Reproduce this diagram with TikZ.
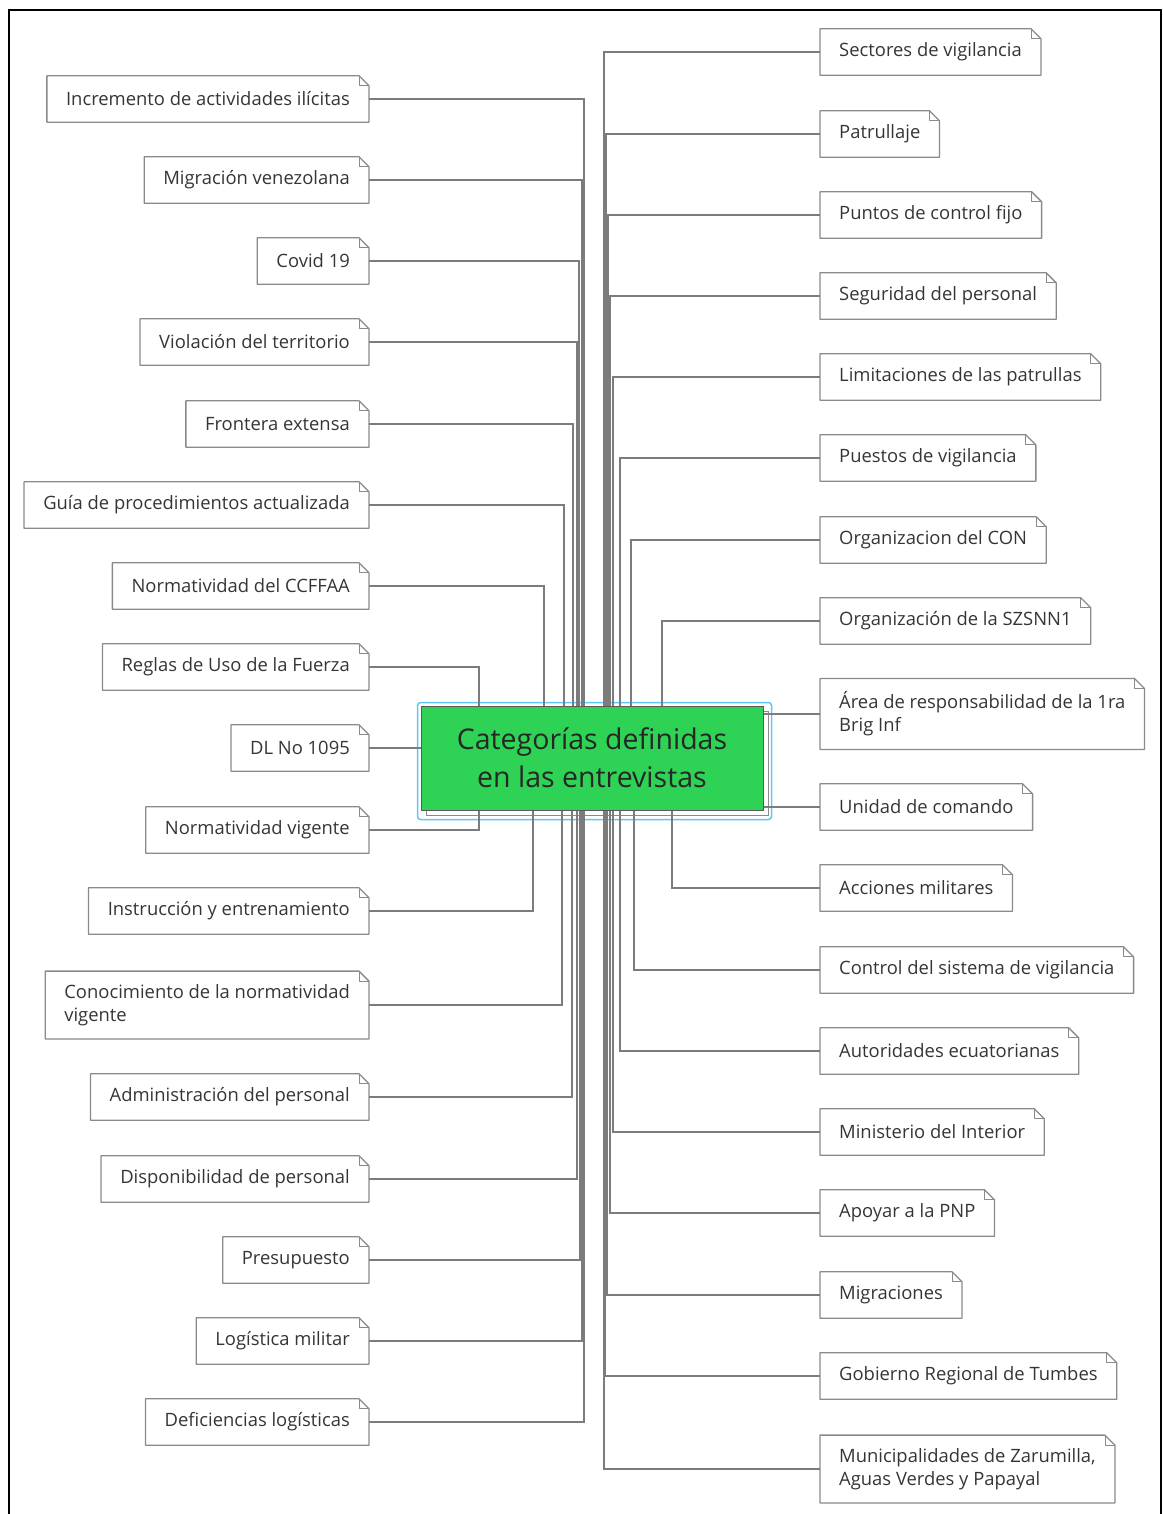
\documentclass[tikz,border=0pt]{standalone}
\usepackage{fontspec}
\setmainfont{Open Sans}
\usetikzlibrary{shadows}

\definecolor{verdecat}{HTML}{2ED356}
\definecolor{grisborde}{HTML}{8A8A8A}
\definecolor{grislinea}{HTML}{7C7C7C}
\definecolor{textonota}{HTML}{353535}
\definecolor{azulsel}{HTML}{5BC8F5}

\begin{document}
\begin{tikzpicture}[x=1pt, y=-1pt,
    nota/.style = {anchor=#1, inner xsep=19pt, inner ysep=13pt, minimum height=46pt, align=left, text=textonota, font=\fontsize{18.4}{23}\selectfont},
    borde/.style = {draw=grisborde, line width=1.3pt, line join=round},
    conector/.style = {draw=grislinea, line width=1.1pt},
    central/.style = {fill=verdecat, draw=black!65, line width=1pt, minimum width=342pt, minimum height=104pt, align=center, text=black!85, font=\fontsize{28.5}{38}\selectfont, copy shadow={shadow xshift=5pt, shadow yshift=-5pt, fill=white, draw=grisborde}}]

    \useasboundingbox (0,0) rectangle (1162,1514);
    % marco
    \draw[line width=2pt] (9,1514) -- (9,10) -- (1161,10) -- (1161,1514);

    % nodo central
    \node[central] (cat) at (592,758) {Categorías definidas\\en las entrevistas};
    \draw[azulsel, line width=1.5pt, rounded corners=3pt] ([shift={(-3pt,3pt)}]cat.north west) rectangle ([shift={(8pt,-9pt)}]cat.south east);

    % categorias izquierda
    \node[nota=east] (l1) at (369,99) {Incremento de actividades ilícitas};
    \node[nota=east] (l2) at (369,180) {Migración venezolana};
    \node[nota=east] (l3) at (369,261) {Covid 19};
    \node[nota=east] (l4) at (369,342) {Violación del territorio};
    \node[nota=east] (l5) at (369,424) {Frontera extensa};
    \node[nota=east] (l6) at (369,505) {Guía de procedimientos actualizada};
    \node[nota=east] (l7) at (369,586) {Normatividad del CCFFAA};
    \node[nota=east] (l8) at (369,667) {Reglas de Uso de la Fuerza};
    \node[nota=east] (l9) at (369,748) {DL No 1095};
    \node[nota=east] (l10) at (369,830) {Normatividad vigente};
    \node[nota=east] (l11) at (369,911) {Instrucción y entrenamiento};
    \node[nota=east] (l12) at (369,1005) {Conocimiento de la normatividad\\vigente};
    \node[nota=east] (l13) at (369,1097) {Administración del personal};
    \node[nota=east] (l14) at (369,1179) {Disponibilidad de personal};
    \node[nota=east] (l15) at (369,1260) {Presupuesto};
    \node[nota=east] (l16) at (369,1341) {Logística militar};
    \node[nota=east] (l17) at (369,1422) {Deficiencias logísticas};

    % categorias derecha
    \node[nota=west] (r1) at (820,52) {Sectores de vigilancia};
    \node[nota=west] (r2) at (820,134) {Patrullaje};
    \node[nota=west] (r3) at (820,215) {Puntos de control fijo};
    \node[nota=west] (r4) at (820,296) {Seguridad del personal};
    \node[nota=west] (r5) at (820,377) {Limitaciones de las patrullas};
    \node[nota=west] (r6) at (820,458) {Puestos de vigilancia};
    \node[nota=west] (r7) at (820,540) {Organizacion del CON};
    \node[nota=west] (r8) at (820,621) {Organización de la SZSNN1};
    \node[nota=west] (r9) at (820,714) {Área de responsabilidad de la 1ra\\Brig Inf};
    \node[nota=west] (r10) at (820,807) {Unidad de comando};
    \node[nota=west] (r11) at (820,888) {Acciones militares};
    \node[nota=west] (r12) at (820,970) {Control del sistema de vigilancia};
    \node[nota=west] (r13) at (820,1051) {Autoridades ecuatorianas};
    \node[nota=west] (r14) at (820,1132) {Ministerio del Interior};
    \node[nota=west] (r15) at (820,1213) {Apoyar a la PNP};
    \node[nota=west] (r16) at (820,1295) {Migraciones};
    \node[nota=west] (r17) at (820,1376) {Gobierno Regional de Tumbes};
    \node[nota=west] (r18) at (820,1469) {Municipalidades de Zarumilla,\\Aguas Verdes y Papayal};

    % contornos con esquina doblada
    \foreach \n in {l1,l2,l3,l4,l5,l6,l7,l8,l9,l10,l11,l12,l13,l14,l15,l16,l17,r1,r2,r3,r4,r5,r6,r7,r8,r9,r10,r11,r12,r13,r14,r15,r16,r17,r18} {
        \draw[borde] (\n.north west) -- ([xshift=-10pt]\n.north east) -- ([yshift=-10pt]\n.north east) -- (\n.south east) -- (\n.south west) -- cycle;
        \draw[borde, line width=0.8pt] ([xshift=-10pt]\n.north east) |- ([yshift=-10pt]\n.north east);
    }

    % conectores
    \foreach \n/\dx in {l1/-8, l2/-10, l3/-13, l4/-15, l5/-19, l6/-28, l7/-48, l8/-113}
        \draw[conector] (\n.east) -| ([xshift=\dx pt]cat.north);
    \foreach \n/\dx in {l10/-113, l11/-59, l12/-30, l13/-20, l14/-15, l15/-12, l16/-10, l17/-8}
        \draw[conector] (\n.east) -| ([xshift=\dx pt]cat.south);
    \draw[conector] (l9.east) -- (l9.east -| cat.west);
    \foreach \n/\dx in {r1/12, r2/14, r3/16, r4/18, r5/21, r6/28, r7/39, r8/70}
        \draw[conector] (\n.west) -| ([xshift=\dx pt]cat.north);
    \foreach \n/\dx in {r11/80, r12/42, r13/28, r14/21, r15/18, r16/15, r17/13, r18/12}
        \draw[conector] (\n.west) -| ([xshift=\dx pt]cat.south);
    \draw[conector] (r9.west) -- (r9.west -| cat.east);
    \draw[conector] (r10.west) -- (r10.west -| cat.east);

\end{tikzpicture}
\end{document}
